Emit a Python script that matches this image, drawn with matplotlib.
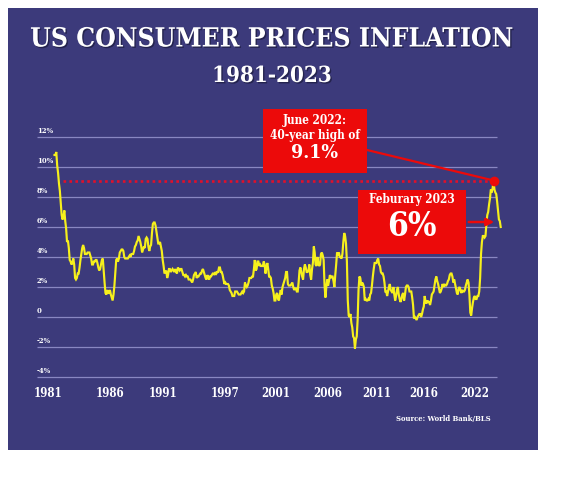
import os
import numpy as np
import matplotlib
matplotlib.use("Agg")
import matplotlib.pyplot as plt
from matplotlib import font_manager as fm
from matplotlib.patches import Rectangle, FancyArrowPatch, ConnectionPatch
import matplotlib.patheffects as pe

# ---------------- data (US CPI, % change year on year, monthly) ----------------
start_year, start_month = 1981, 7
cpi_1980s = [10.8, 10.8, 11.0, 10.1, 9.6, 8.9,
             8.4, 7.6, 6.8, 6.5, 6.7, 7.1, 6.4, 5.9, 5.0, 5.1, 4.6, 3.8,
             3.7, 3.5, 3.6, 3.9, 3.5, 2.6, 2.5, 2.6, 2.9, 2.9, 3.3, 3.8,
             4.2, 4.6, 4.8, 4.6, 4.2, 4.2, 4.2, 4.3, 4.3, 4.3, 4.1, 3.9,
             3.5, 3.5, 3.7, 3.7, 3.8, 3.8, 3.6, 3.3, 3.1, 3.2, 3.5, 3.8,
             3.9, 3.1, 2.3, 1.6, 1.5, 1.8, 1.6, 1.6, 1.8, 1.5, 1.3, 1.1,
             1.5, 2.1, 3.0, 3.8, 3.9, 3.7, 3.9, 4.3, 4.4, 4.5, 4.5, 4.4,
             4.0, 3.9, 3.9, 3.9, 3.9, 4.0, 4.1, 4.0, 4.2, 4.2, 4.2, 4.4,
             4.7, 4.8, 5.0, 5.1, 5.4, 5.2, 5.0, 4.7, 4.3, 4.5, 4.7, 4.6]
cpi_1990s = [5.2, 5.3, 5.2, 4.7, 4.4, 4.7, 4.8, 5.6, 6.2, 6.3, 6.3, 6.1,
             5.7, 5.3, 4.9, 4.9, 5.0, 4.7, 4.4, 3.8, 3.4, 2.9, 3.0, 3.1,
             2.6, 2.8, 3.2, 3.2, 3.0, 3.1, 3.2, 3.1, 3.0, 3.2, 3.0, 2.9,
             3.3, 3.2, 3.1, 3.2, 3.2, 3.0, 2.8, 2.8, 2.7, 2.8, 2.7, 2.7,
             2.5, 2.5, 2.5, 2.4, 2.3, 2.5, 2.8, 2.9, 3.0, 2.6, 2.7, 2.7,
             2.8, 2.9, 2.9, 3.1, 3.2, 3.0, 2.8, 2.6, 2.5, 2.8, 2.6, 2.5,
             2.7, 2.7, 2.8, 2.9, 2.9, 2.8, 3.0, 2.9, 3.0, 3.0, 3.3, 3.3,
             3.0, 3.0, 2.8, 2.5, 2.2, 2.3, 2.2, 2.2, 2.2, 2.1, 1.8, 1.7,
             1.6, 1.4, 1.4, 1.4, 1.7, 1.7, 1.7, 1.6, 1.5, 1.5, 1.5, 1.6,
             1.7, 1.6, 1.7, 2.3, 2.1, 2.0, 2.1, 2.3, 2.6, 2.6, 2.6, 2.7]
cpi_2000s = [2.7, 3.2, 3.8, 3.1, 3.2, 3.7, 3.7, 3.4, 3.5, 3.4, 3.4, 3.4,
             3.7, 3.5, 2.9, 3.3, 3.6, 3.2, 2.7, 2.7, 2.6, 2.1, 1.9, 1.6,
             1.1, 1.1, 1.5, 1.6, 1.2, 1.1, 1.5, 1.8, 1.5, 2.0, 2.2, 2.4,
             2.6, 3.0, 3.0, 2.2, 2.1, 2.1, 2.1, 2.2, 2.3, 2.0, 1.8, 1.9,
             1.9, 1.7, 1.7, 2.3, 3.1, 3.3, 3.0, 2.7, 2.5, 3.2, 3.5, 3.3,
             3.0, 3.0, 3.1, 3.5, 2.8, 2.5, 3.2, 3.6, 4.7, 4.3, 3.5, 3.4,
             4.0, 3.6, 3.4, 3.5, 4.2, 4.3, 4.1, 3.8, 2.1, 1.3, 2.0, 2.5,
             2.1, 2.4, 2.8, 2.6, 2.7, 2.7, 2.4, 2.0, 2.8, 3.5, 4.3, 4.1,
             4.3, 4.0, 4.0, 3.9, 4.2, 5.0, 5.6, 5.4, 4.9, 3.7, 1.1, 0.1,
             0.0, 0.2, -0.4, -0.7, -1.3, -1.4, -2.1, -1.5, -1.3, -0.2, 1.8, 2.7]
cpi_2010s = [2.6, 2.1, 2.3, 2.2, 2.0, 1.1, 1.2, 1.1, 1.1, 1.2, 1.1, 1.5,
             1.6, 2.1, 2.7, 3.2, 3.6, 3.6, 3.6, 3.8, 3.9, 3.5, 3.4, 3.0,
             2.9, 2.9, 2.7, 2.3, 1.7, 1.7, 1.4, 1.7, 2.0, 2.2, 1.8, 1.7,
             1.6, 2.0, 1.5, 1.1, 1.4, 1.8, 2.0, 1.5, 1.2, 1.0, 1.2, 1.5,
             1.6, 1.1, 1.5, 2.0, 2.1, 2.1, 2.0, 1.7, 1.7, 1.7, 1.3, 0.8,
             -0.1, 0.0, -0.1, -0.2, 0.0, 0.1, 0.2, 0.2, 0.0, 0.2, 0.5, 0.7,
             1.4, 1.0, 0.9, 1.1, 1.0, 1.0, 0.8, 1.1, 1.5, 1.6, 1.7, 2.1,
             2.5, 2.7, 2.4, 2.2, 1.9, 1.6, 1.7, 1.9, 2.2, 2.0, 2.2, 2.1,
             2.1, 2.2, 2.4, 2.5, 2.8, 2.9, 2.9, 2.7, 2.3, 2.5, 2.2, 1.9,
             1.6, 1.5, 1.9, 2.0, 1.8, 1.6, 1.8, 1.7, 1.7, 1.8, 2.1, 2.3]
cpi_2020s = [2.5, 2.3, 1.5, 0.3, 0.1, 0.6, 1.0, 1.3, 1.4, 1.2, 1.2, 1.4,
             1.4, 1.7, 2.6, 4.2, 5.0, 5.4, 5.4, 5.3, 5.4, 6.2, 6.8, 7.0,
             7.5, 7.9, 8.5, 8.3, 8.6, 9.1, 8.5, 8.3, 8.2, 7.7, 7.1, 6.5,
             6.4, 6.0]

peak_year, peak_month = 2022, 6

ytick_values = [12, 10, 8, 6, 4, 2, 0, -2, -4]
ytick_labels = ["12%", "10%", "8%", "6%", "4%", "2%", "0", "-2%", "-4%"]
xtick_labels = ["1981", "1986", "1991", "1997", "2001", "2006", "2011", "2016", "2022"]
xtick_pos = [1980.94, 1986.71, 1991.65, 1997.43, 2002.18, 2007.03, 2011.60, 2015.98, 2020.73]

title = "US CONSUMER PRICES INFLATION"
subtitle = "1981-2023"
peak_text = ["June 2022:", "40-year high of", "9.1%"]
last_text = ["Feburary 2023", "6%"]
source = "Source: World Bank/BLS"

cpi = np.array(cpi_1980s + cpi_1990s + cpi_2000s + cpi_2010s + cpi_2020s)
months = start_month - 1 + np.arange(len(cpi))
t = start_year + (months + 0.5) / 12.0
ipk = (peak_year - start_year) * 12 + (peak_month - start_month)

# ---------------- fonts ----------------
def find_font(prefixes):
    files = list(fm.findSystemFonts()) + [f.fname for f in fm.fontManager.ttflist]
    for p in prefixes:
        for f in files:
            if os.path.basename(f).lower().startswith(p.lower()):
                return f
    return None

font_file = find_font(["DejaVuSerifCondensed-Bold.", "DejaVuSerif-Bold."])

def FP(size):
    if font_file:
        return fm.FontProperties(fname=font_file, size=size)
    return fm.FontProperties(family="DejaVu Serif", weight="bold", size=size)

# ---------------- colours ----------------
BG = "#3c3a7b"
RED = "#ec0a0a"
DOT_RED = "#e0102a"
YELLOW = "#f6f01c"
GRID = "#8987c2"
WHITE = "#ffffff"

W, H = 570, 480
fig = plt.figure(figsize=(W / 100, H / 100), dpi=100)
fig.patch.set_facecolor("white")

bg = fig.add_axes([0, 0, 1, 1], zorder=0)
bg.set_xlim(0, W); bg.set_ylim(H, 0); bg.axis("off")
bg.add_patch(Rectangle((8, 8), 530, 442, facecolor=BG, edgecolor="none"))

# data axes: x px = 112 + (t-1986.9)*10.73 ; y px = 317 - 15*v
px_per_year = 10.73
def t_at(px):
    return 1986.9 + (px - 112) / px_per_year
ax_left, ax_right = 37, 505
ax = fig.add_axes([ax_left / W, (H - 384.5) / H, (ax_right - ax_left) / W, 255 / H], zorder=2)
ax.set_xlim(t_at(ax_left), t_at(ax_right))
ax.set_ylim(-4.5, 12.5)
ax.patch.set_alpha(0)
for s in ax.spines.values():
    s.set_visible(False)
ax.set_yticks([])
ax.set_xticks(xtick_pos, xtick_labels)
ax.tick_params(axis="x", length=0, pad=2.0, colors=WHITE)
for lab in ax.get_xticklabels():
    lab.set_fontproperties(FP(8.3))

ax.hlines(ytick_values, t_at(37), t_at(497), color=GRID, lw=0.9, zorder=1)
for v, lab in zip(ytick_values, ytick_labels):
    ax.text(t_at(37), v + 0.12, lab, color=WHITE, fontproperties=FP(5.5),
            ha="left", va="bottom", zorder=2)

ax.hlines(cpi[ipk], t_at(63), t[ipk], color=DOT_RED, lw=1.9,
          linestyles=[(0, (1, 1.25))], zorder=2)
ax.plot(t, cpi, color=YELLOW, lw=1.55, zorder=3, solid_joinstyle="miter")
ax.plot([t[ipk]], [cpi[ipk]], "o", color=RED, ms=7, mec="none", zorder=4)

# ---------------- foreground overlay: titles, boxes ----------------
fg = fig.add_axes([0, 0, 1, 1], zorder=3)
fg.set_xlim(0, W); fg.set_ylim(H, 0); fg.axis("off")

shadow = [pe.withSimplePatchShadow(offset=(1, -1), shadow_rgbFace="#151530", alpha=0.6)]
fg.text(271.5, 39, title, color=WHITE, fontproperties=FP(19), ha="center", va="center",
        path_effects=shadow)
fg.text(272, 76, subtitle, color=WHITE, fontproperties=FP(16), ha="center", va="center",
        path_effects=shadow)

# connector from box 1 to the peak point
con = ConnectionPatch(xyA=(367, 150), coordsA=fg.transData,
                      xyB=(t[ipk], cpi[ipk]), coordsB=ax.transData,
                      color=RED, lw=1.6, zorder=5)
fg.add_artist(con)

fg.add_patch(Rectangle((263, 109), 104, 64, facecolor=RED, edgecolor="none", zorder=6))
fg.text(315, 120.5, peak_text[0], color=WHITE, fontproperties=FP(8.5), ha="center", va="center", zorder=7)
fg.text(315, 135, peak_text[1], color=WHITE, fontproperties=FP(8.5), ha="center", va="center", zorder=7)
fg.text(315, 153, peak_text[2], color=WHITE, fontproperties=FP(14), ha="center", va="center", zorder=7)

fg.add_patch(Rectangle((358, 190), 108, 64, facecolor=RED, edgecolor="none", zorder=6))
fg.text(412, 199, last_text[0], color=WHITE, fontproperties=FP(8.5), ha="center", va="center", zorder=7)
fg.text(412, 226, last_text[1], color=WHITE, fontproperties=FP(24), ha="center", va="center", zorder=7)

arr = FancyArrowPatch((466, 222), (497, 222), arrowstyle="-|>", mutation_scale=11,
                      color=RED, lw=1.8, zorder=6)
fg.add_patch(arr)

fg.text(491, 419, source, color=WHITE, fontproperties=FP(5.5), ha="right", va="center")

fig.savefig("out.png", dpi=100, facecolor=fig.get_facecolor())
